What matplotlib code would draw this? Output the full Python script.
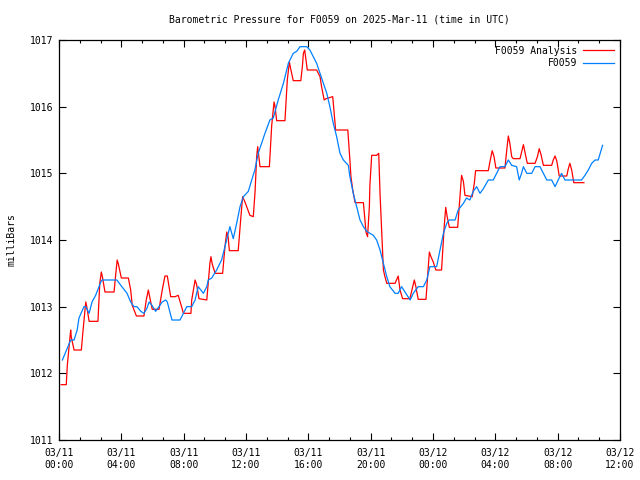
import numpy as np
import pandas as pd
import matplotlib
matplotlib.use("Agg")
import matplotlib.pyplot as plt
import matplotlib.dates as mdates
from matplotlib.ticker import AutoMinorLocator

# minutes after 2025-03-11 00:00 UTC, pressure in mb
obs_minutes = [13, 45, 58, 70, 77, 96, 103, 116, 127, 141, 161, 166, 223, 238, 262, 276,
               289, 300, 315, 327, 339, 347, 358, 372, 385, 397, 411, 417, 435, 466, 492,
               511, 524, 536, 556, 569, 575, 588, 607, 626, 639, 658, 671, 684, 697, 710,
               729, 742, 754, 767, 780, 793, 812, 825, 844, 864, 883, 902, 915, 928, 954,
               966, 979, 992, 1005, 1018, 1031, 1043, 1056, 1069, 1082, 1095, 1114, 1120,
               1133, 1146, 1159, 1172, 1185, 1210, 1223, 1236, 1249, 1262, 1274, 1294,
               1306, 1319, 1332, 1352, 1364, 1383, 1403, 1416, 1422, 1428, 1454, 1467,
               1480, 1493, 1502, 1525, 1537, 1557, 1569, 1582, 1595, 1608, 1621, 1634,
               1653, 1672, 1685, 1698, 1717, 1730, 1743, 1762, 1772, 1781, 1788, 1801,
               1820, 1833, 1852, 1865, 1878, 1897, 1910, 1922, 1935, 1948, 2012, 2025,
               2038, 2051, 2064, 2076, 2093]
obs_mb = [1012.20, 1012.50, 1012.50, 1012.65, 1012.83, 1013.00, 1013.00, 1012.90, 1013.07,
          1013.17, 1013.37, 1013.40, 1013.40, 1013.32, 1013.20, 1013.07, 1013.00, 1013.00,
          1012.93, 1012.90, 1012.98, 1013.07, 1013.02, 1012.93, 1013.00, 1013.07, 1013.10,
          1013.07, 1012.80, 1012.80, 1013.00, 1013.00, 1013.10, 1013.30, 1013.20, 1013.30,
          1013.40, 1013.43, 1013.55, 1013.70, 1013.90, 1014.20, 1014.02, 1014.25, 1014.50,
          1014.65, 1014.73, 1014.90, 1015.05, 1015.30, 1015.45, 1015.60, 1015.80, 1015.83,
          1016.10, 1016.35, 1016.65, 1016.80, 1016.83, 1016.90, 1016.90, 1016.85, 1016.75,
          1016.65, 1016.50, 1016.35, 1016.20, 1016.00, 1015.75, 1015.55, 1015.30, 1015.20,
          1015.12, 1014.95, 1014.70, 1014.50, 1014.30, 1014.20, 1014.13, 1014.07, 1014.00,
          1013.85, 1013.65, 1013.45, 1013.30, 1013.20, 1013.20, 1013.30, 1013.22, 1013.10,
          1013.20, 1013.30, 1013.30, 1013.40, 1013.50, 1013.60, 1013.60, 1013.85, 1014.10,
          1014.25, 1014.30, 1014.30, 1014.45, 1014.55, 1014.63, 1014.60, 1014.73, 1014.80,
          1014.70, 1014.77, 1014.90, 1014.90, 1015.00, 1015.10, 1015.10, 1015.20, 1015.12,
          1015.10, 1014.90, 1015.00, 1015.10, 1015.00, 1015.00, 1015.10, 1015.10, 1015.00,
          1014.90, 1014.90, 1014.80, 1014.90, 1015.00, 1014.90, 1014.90, 1014.97, 1015.05,
          1015.15, 1015.20, 1015.20, 1015.42]

ana_minutes = [8, 28, 32, 39, 45, 47, 58, 86, 92, 103, 107, 116, 150, 157, 163, 167, 177,
               212, 218, 224, 228, 240, 267, 276, 282, 298, 327, 336, 344, 349, 359, 385,
               398, 408, 417, 430, 447, 459, 472, 479, 508, 511, 524, 530, 539, 569, 581,
               585, 590, 601, 630, 639, 646, 651, 656, 690, 700, 707, 716, 735, 748, 755,
               761, 765, 774, 810, 819, 828, 832, 838, 870, 879, 887, 893, 902, 931, 937,
               941, 946, 956, 992, 1005, 1011, 1021, 1028, 1054, 1065, 1112, 1120, 1124,
               1131, 1140, 1172, 1182, 1188, 1195, 1197, 1204, 1223, 1231, 1236, 1245,
               1249, 1255, 1262, 1294, 1306, 1313, 1323, 1351, 1362, 1368, 1374, 1383,
               1413, 1420, 1426, 1432, 1441, 1451, 1473, 1483, 1489, 1495, 1503, 1535,
               1544, 1550, 1557, 1563, 1591, 1599, 1604, 1653, 1659, 1668, 1675, 1682,
               1717, 1724, 1730, 1736, 1743, 1749, 1775, 1781, 1788, 1794, 1803, 1833,
               1842, 1849, 1856, 1865, 1897, 1903, 1910, 1917, 1926, 1955, 1961, 1967,
               1974, 1982, 2016, 2021]
ana_mb = [1011.83, 1011.83, 1012.12, 1012.40, 1012.65, 1012.55, 1012.35, 1012.35, 1012.62,
          1013.07, 1013.00, 1012.78, 1012.78, 1013.35, 1013.52, 1013.45, 1013.22, 1013.22,
          1013.47, 1013.70, 1013.65, 1013.43, 1013.43, 1013.25, 1013.02, 1012.86, 1012.86,
          1013.10, 1013.25, 1013.15, 1012.96, 1012.96, 1013.26, 1013.46, 1013.46, 1013.15,
          1013.15, 1013.17, 1013.00, 1012.90, 1012.90, 1013.10, 1013.40, 1013.33, 1013.12,
          1013.10, 1013.65, 1013.75, 1013.64, 1013.50, 1013.50, 1013.90, 1014.12, 1014.05,
          1013.84, 1013.84, 1014.33, 1014.65, 1014.57, 1014.37, 1014.35, 1014.73, 1015.25,
          1015.40, 1015.10, 1015.10, 1015.72, 1016.07, 1016.00, 1015.79, 1015.79, 1016.40,
          1016.67, 1016.55, 1016.39, 1016.39, 1016.60, 1016.80, 1016.85, 1016.55, 1016.55,
          1016.45, 1016.30, 1016.10, 1016.12, 1016.15, 1015.65, 1015.65, 1015.20, 1014.95,
          1014.75, 1014.56, 1014.56, 1014.12, 1014.05, 1014.50, 1014.82, 1015.27, 1015.27,
          1015.30, 1014.70, 1013.90, 1013.55, 1013.45, 1013.35, 1013.35, 1013.46, 1013.25,
          1013.12, 1013.12, 1013.30, 1013.40, 1013.30, 1013.11, 1013.11, 1013.50, 1013.82,
          1013.75, 1013.67, 1013.55, 1013.55, 1014.20, 1014.49, 1014.34, 1014.19, 1014.19,
          1014.65, 1014.97, 1014.88, 1014.67, 1014.65, 1014.85, 1015.04, 1015.04, 1015.17,
          1015.34, 1015.25, 1015.08, 1015.08, 1015.35, 1015.56, 1015.45, 1015.25, 1015.22,
          1015.22, 1015.32, 1015.43, 1015.32, 1015.15, 1015.15, 1015.25, 1015.37, 1015.28,
          1015.12, 1015.12, 1015.20, 1015.26, 1015.18, 1014.96, 1014.96, 1015.07, 1015.15,
          1015.05, 1014.86, 1014.86, 1014.86]

start = pd.Timestamp("2025-03-11 00:00")
end = pd.Timestamp("2025-03-12 12:00")
obs_time = start + pd.to_timedelta(obs_minutes, unit="min")
ana_time = start + pd.to_timedelta(ana_minutes, unit="min")

plt.rcParams['font.family'] = ['DejaVu Sans Mono']
plt.rcParams['font.size'] = 7

fig = plt.figure(figsize=(6.4, 4.8), dpi=100)
ax = fig.add_axes([59 / 640, 40 / 480, 561 / 640, 400 / 480])

ax.plot(ana_time, ana_mb, color='#ff0000', lw=0.9, label='F0059 Analysis')
ax.plot(obs_time, obs_mb, color='#0080ff', lw=0.9, label='F0059')

ax.set_xlim(start, end)
ax.set_ylim(1011, 1017)
ax.set_yticks(np.arange(1011, 1018, 1))
ax.xaxis.set_major_locator(mdates.HourLocator(byhour=range(0, 24, 4)))
ax.xaxis.set_major_formatter(mdates.DateFormatter('%m/%d\n%H:%M'))
ax.xaxis.set_minor_locator(AutoMinorLocator(3))

ax.tick_params(which='both', direction='in', top=True, right=True, width=0.8, color='black')
ax.tick_params(which='major', length=5, pad=4, labelsize=7)
ax.tick_params(which='minor', length=2.5)
ax.tick_params(axis='x', pad=6)
for s in ax.spines.values():
    s.set_linewidth(0.9)

ax.set_ylabel('milliBars', fontsize=7)
ax.yaxis.set_label_coords(-0.075, 0.5)
fig.text(339.5 / 640, 1 - 19 / 480, 'Barometric Pressure for F0059 on 2025-Mar-11 (time in UTC)',
         ha='center', va='center', fontsize=7)

ax.legend(loc='upper right', frameon=False, markerfirst=False, fontsize=7,
          handlelength=3.2, handletextpad=0.6, borderaxespad=0.2, labelspacing=0.25)

fig.savefig('out.png', dpi=100)
